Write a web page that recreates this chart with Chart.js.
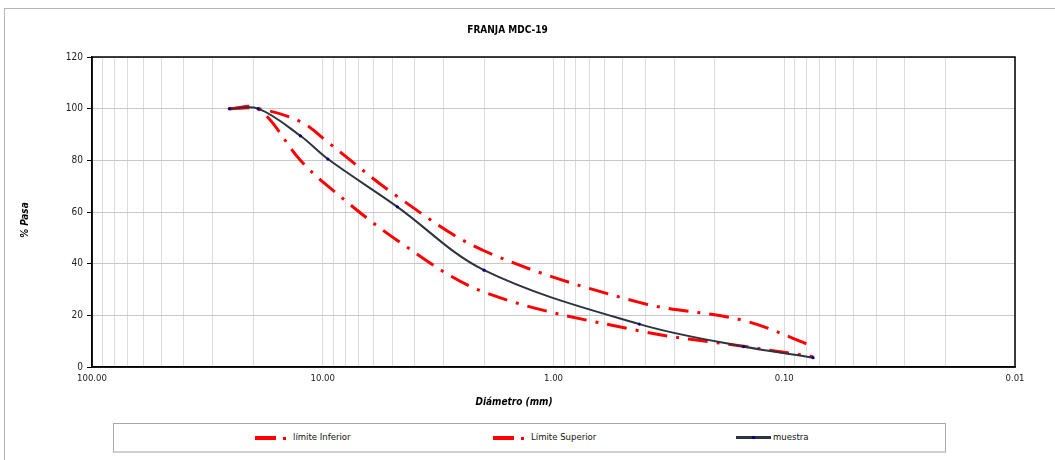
<!DOCTYPE html>
<html>
<head>
<meta charset="utf-8">
<script src="https://cdn.jsdelivr.net/npm/chart.js@4.4.1/dist/chart.umd.min.js"></script>
<style>
  body { margin: 0; background: #fff; }
  #wrap { position: relative; width: 1055px; height: 460px; overflow: hidden; }
  #frame { position: absolute; left: 4px; top: 8px; width: 1100px; height: 500px;
           border-left: 1px solid #b4b4b4; border-top: 1px solid #b4b4b4; }
  #grafico { position: absolute; left: 0; top: 0; }
  #leyenda { position: absolute; left: 113px; top: 423px; width: 831px; height: 27px;
             border: 1px solid #a8a8a8; border-bottom: 2px solid #cfcfcf; background: #fff;
             font-family: "DejaVu Sans Condensed", "DejaVu Sans", sans-serif; font-size: 9.5px; color: #111; }
  .dash { position: absolute; top: 12px; width: 21px; height: 4px; background: #ff0000; }
  .dot  { position: absolute; top: 12.5px; width: 3px; height: 3px; background: #ff0000; }
  .txt  { position: absolute; top: 7px; white-space: nowrap; }
  .linea { position: absolute; top: 12px; width: 35px; height: 3px; background: #2b3440; }
  .punto { position: absolute; top: 12px; width: 3px; height: 3px; background: #00008b; }
</style>
</head>
<body>
<div id="wrap">
  <div id="frame"></div>
  <canvas id="grafico" width="1055" height="460"></canvas>
  <div id="leyenda">
    <div class="dash" style="left:141px"></div><div class="dot" style="left:169px"></div>
    <div class="txt" style="left:179px">límite Inferior</div>
    <div class="dash" style="left:379px"></div><div class="dot" style="left:407px"></div>
    <div class="txt" style="left:417px">Límite Superior</div>
    <div class="linea" style="left:622px"></div><div class="punto" style="left:638px"></div>
    <div class="txt" style="left:659px">muestra</div>
  </div>
</div>
<script>
// tamices (mm) y % que pasa
const tamices = [25.4, 19.05, 12.5, 9.5, 4.75, 2.0, 0.425, 0.15, 0.075];
const limiteInferior = [100, 100, 80, 70, 49, 29, 14, 8, 4];
const limiteSuperior = [100, 100, 95, 87, 66, 45, 25, 18, 8];
const muestra = [100, 100, 89.5, 80.5, 62, 37.5, 16.6, 7.9, 3.6];

const tituloX = 'Diámetro (mm)';
const tituloY = '% Pasa';

const fuente = '"DejaVu Sans Condensed", "DejaVu Sans", sans-serif';

function puntos(valores) {
    return tamices.map(function (t, i) { return { x: t, y: valores[i] }; });
}

// lineas de grilla del eje log: 1..9 x 10^n
function ticksLog() {
    var lista = [];
    for (var e = -2; e <= 1; e++) {
        for (var m = 1; m <= 9; m++) {
            lista.push({ value: Number((m * Math.pow(10, e)).toFixed(4)) });
        }
    }
    lista.push({ value: 100 });
    return lista;
}

// borde del area de trazado y titulos de ejes (centrados como en excel)
const marco = {
    id: 'marco',
    afterDraw: function (chart) {
        var a = chart.chartArea, ctx = chart.ctx;
        ctx.save();
        ctx.strokeStyle = '#000';
        ctx.lineWidth = 1.5;
        ctx.strokeRect(a.left, a.top, a.right - a.left, a.bottom - a.top);

        ctx.fillStyle = '#000';
        ctx.font = 'italic bold 10px ' + fuente;
        ctx.textAlign = 'center';
        ctx.textBaseline = 'middle';
        ctx.fillText(tituloX, 514, 402);
        ctx.translate(25, 220);
        ctx.rotate(-Math.PI / 2);
        ctx.fillText(tituloY, 0, 0);
        ctx.restore();
    }
};

new Chart(document.getElementById('grafico').getContext('2d'), {
    type: 'line',
    data: {
        datasets: [
            {
                label: 'muestra',
                data: puntos(muestra),
                borderColor: '#2b3440',
                borderWidth: 2,
                pointRadius: 1.6,
                pointBackgroundColor: '#00008b',
                pointBorderColor: '#00008b',
                pointBorderWidth: 0,
                tension: 0.35,
                fill: false
            },
            {
                label: 'límite Inferior',
                data: puntos(limiteInferior),
                borderColor: '#ff0000',
                borderWidth: 3,
                borderDash: [20, 9, 3, 9],
                borderCapStyle: 'butt',
                pointRadius: 0,
                tension: 0.35,
                fill: false
            },
            {
                label: 'Límite Superior',
                data: puntos(limiteSuperior),
                borderColor: '#ff0000',
                borderWidth: 3,
                borderDash: [20, 9, 3, 9],
                borderCapStyle: 'butt',
                pointRadius: 0,
                tension: 0.35,
                fill: false
            }
        ]
    },
    options: {
        responsive: false,
        animation: false,
        layout: { padding: { left: 0, right: 40, top: 0, bottom: 48 } },
        plugins: {
            legend: { display: false },
            tooltip: { enabled: false },
            title: {
                display: true,
                text: 'FRANJA MDC-19',
                color: '#000',
                font: { family: fuente, size: 10, weight: 'bold' },
                padding: { top: 24, bottom: 21 }
            }
        },
        scales: {
            x: {
                type: 'logarithmic',
                reverse: true,
                min: 0.01,
                max: 100,
                afterBuildTicks: function (axis) { axis.ticks = ticksLog(); },
                afterFit: function (axis) { axis.height = 45; },
                ticks: {
                    autoSkip: false,
                    maxRotation: 0,
                    padding: 6,
                    color: '#222',
                    font: { family: fuente, size: 9.5 },
                    callback: function (v) {
                        var l = Math.log10(v);
                        return Math.abs(l - Math.round(l)) < 1e-6 ? Number(v).toFixed(2) : '';
                    }
                },
                grid: { color: '#dcdcdc', lineWidth: 1, drawTicks: false },
                border: { display: true, color: '#000', width: 1.5 }
            },
            y: {
                min: 0,
                max: 120,
                afterFit: function (axis) { axis.width = 92; },
                ticks: {
                    stepSize: 20,
                    padding: 4,
                    color: '#222',
                    font: { family: fuente, size: 10 }
                },
                grid: { color: '#c8c8c8', lineWidth: 1, tickLength: 5, tickColor: '#000' },
                border: { display: true, color: '#000', width: 1.5 }
            }
        }
    },
    plugins: [marco]
});
</script>
</body>
</html>
